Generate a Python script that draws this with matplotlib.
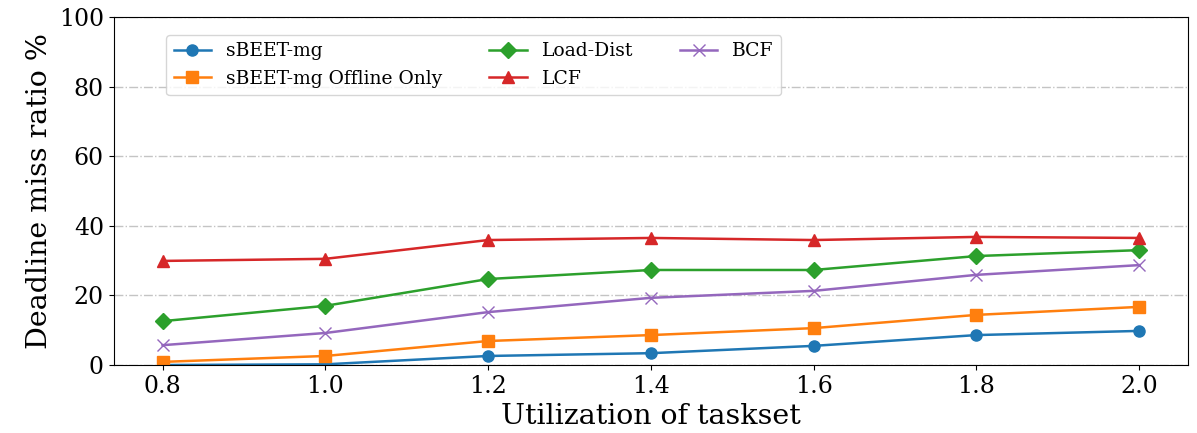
import matplotlib
matplotlib.use("Agg")
import matplotlib.pyplot as plt

plt.rcParams["font.family"] = "DejaVu Serif"

# ── Data ──
util = [0.8, 1.0, 1.2, 1.4, 1.6, 1.8, 2.0]
sbeet = [0.0, 0.2, 2.6, 3.4, 5.5, 8.6, 9.8]
sbeet_offline = [0.9, 2.6, 6.9, 8.6, 10.6, 14.4, 16.7]
load_dist = [12.6, 17.0, 24.7, 27.3, 27.3, 31.3, 33.0]
lcf = [29.9, 30.5, 35.9, 36.5, 35.9, 36.8, 36.5]
bcf = [5.7, 9.2, 15.2, 19.3, 21.3, 25.9, 28.7]

fig = plt.figure(figsize=(11.97, 4.33), dpi=100)
ax = fig.add_axes([0.095, 0.157, 0.8975, 0.804])

ax.plot(util, sbeet, marker="o", markersize=8, lw=1.8, color="#1f77b4", label="sBEET-mg")
ax.plot(util, sbeet_offline, marker="s", markersize=8, lw=1.8, color="#ff7f0e",
        label="sBEET-mg Offline Only")
ax.plot(util, load_dist, marker="D", markersize=8, lw=1.8, color="#2ca02c", label="Load-Dist")
ax.plot(util, lcf, marker="^", markersize=9, lw=1.8, color="#d62728", label="LCF")
ax.plot(util, bcf, marker="x", markersize=9, lw=1.8, color="#9467bd", label="BCF")

ax.set_ylim(0, 100)
ax.set_xticks(util)
ax.set_xticklabels([f"{u:.1f}" for u in util])
ax.tick_params(labelsize=17)
ax.set_xlabel("Utilization of taskset", fontsize=20.5)
ax.set_ylabel("Deadline miss ratio %", fontsize=20.5)
ax.yaxis.grid(True, linestyle="-.", color="#c4c4c4", lw=1)
ax.set_axisbelow(True)

ax.legend(ncol=3, fontsize=13.5, loc="upper left", bbox_to_anchor=(0.04, 0.975),
          columnspacing=2.5)

fig.savefig("out.png", dpi=100)
